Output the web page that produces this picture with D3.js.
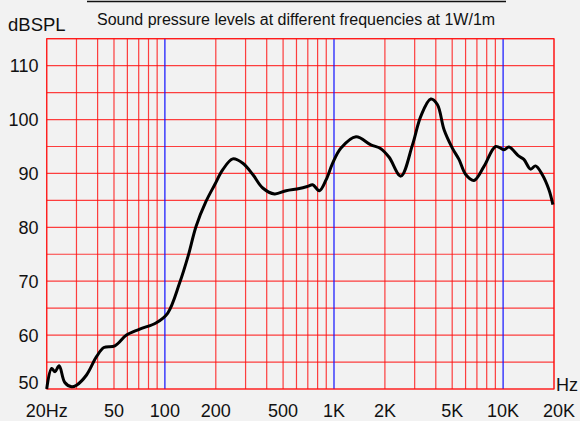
<!DOCTYPE html>
<html>
<head>
<meta charset="utf-8">
<script src="https://cdn.jsdelivr.net/npm/d3@7"></script>
<style>
  html, body { margin: 0; padding: 0; background: #f2f2f2; }
  text { font-family: "Liberation Sans", Arial, sans-serif; fill: #111; }
</style>
</head>
<body>
<svg width="580" height="421"></svg>
<script>
// frequency response
var freqs = [20, 21.4, 22.4, 23.7, 25.6, 28.1, 30, 34.4, 39.4, 43.6, 50.6, 59.3, 71, 89, 104,
  122, 137, 153, 175, 197, 220, 252, 289, 331, 379, 445, 521, 624, 698, 748, 819, 897,
  982, 1100, 1349, 1653, 1893, 2119, 2485, 2911, 3260, 3735, 4085, 4477, 5011, 5484,
  6010, 6729, 7709, 9036, 10118, 10823, 12396, 13270, 14530, 15560, 17030, 18650, 19700];
var spl = [50, 53.8, 53.2, 54.3, 51.2, 50.4, 50.7, 52.6, 56.0, 57.7, 58.0, 60.0, 61.1, 62.3, 64.1,
  69.6, 74.6, 80.2, 84.8, 87.9, 90.7, 92.7, 91.9, 89.8, 87.3, 86.2, 86.8, 87.2, 87.6, 87.9, 86.8, 88.8,
  91.9, 94.7, 96.8, 95.3, 94.6, 93.0, 89.5, 95.3, 100.6, 103.8, 102.8, 98.1, 94.7, 92.6,
  89.8, 88.7, 91.3, 95.0, 94.4, 94.9, 93.2, 92.6, 90.8, 91.4, 89.8, 87.0, 84.2];

var gridFreqs = [20, 30, 40, 50, 60, 70, 80, 90, 100, 200, 300, 400, 500, 600, 700, 800, 900,
  1000, 2000, 3000, 4000, 5000, 6000, 7000, 8000, 9000, 10000, 20000];
var blueFreqs = [100, 1000, 10000];
var xTickFreqs = [20, 50, 100, 200, 500, 1000, 2000, 5000, 10000, 20000];
var xTickLabels = ["20Hz", "50", "100", "200", "500", "1K", "2K", "5K", "10K", "20K"];
var yGrid = [50, 55, 60, 65, 70, 75, 80, 85, 90, 95, 100, 105, 110, 115];
var yTicks = [50, 60, 70, 80, 90, 100, 110];

var plotLeft = 46.7, plotRight = 554, plotTop = 38.7, plotBottom = 389;

var svg = d3.select("svg");

var x = d3.scaleLog().domain([20, 20000]).range([plotLeft, plotRight]);
var y = d3.scaleLinear().domain([50, 115]).range([plotBottom, plotTop]);

// cut-off heading underline at the very top
svg.append("line")
  .attr("x1", 87).attr("x2", 506).attr("y1", 1.5).attr("y2", 1.5)
  .attr("stroke", "#111").attr("stroke-width", 1.5);

svg.append("text")
  .attr("x", 8).attr("y", 30.5)
  .style("font-size", "18.5px")
  .text("dBSPL");

svg.append("text")
  .attr("x", 97).attr("y", 24.5)
  .style("font-size", "16px")
  .text("Sound pressure levels at different frequencies at 1W/1m");

var grid = svg.append("g");

grid.selectAll("line.h")
  .data(yGrid)
  .enter().append("line")
  .attr("class", "h")
  .attr("x1", plotLeft).attr("x2", plotRight)
  .attr("y1", function(d) { return y(d); })
  .attr("y2", function(d) { return y(d); })
  .attr("stroke", "#ff1010").attr("stroke-width", 1.2).attr("stroke-opacity", 0.8);

grid.selectAll("line.v")
  .data(gridFreqs.filter(function(f) { return blueFreqs.indexOf(f) < 0; }))
  .enter().append("line")
  .attr("class", "v")
  .attr("y1", plotTop).attr("y2", plotBottom)
  .attr("x1", function(d) { return x(d); })
  .attr("x2", function(d) { return x(d); })
  .attr("stroke", "#ff1010").attr("stroke-width", 1.2).attr("stroke-opacity", 0.8);

grid.selectAll("line.b")
  .data(blueFreqs)
  .enter().append("line")
  .attr("class", "b")
  .attr("y1", plotTop).attr("y2", plotBottom)
  .attr("x1", function(d) { return x(d); })
  .attr("x2", function(d) { return x(d); })
  .attr("stroke", "#1010ff").attr("stroke-width", 1.2);

grid.append("rect")
  .attr("x", plotLeft).attr("y", plotTop)
  .attr("width", plotRight - plotLeft).attr("height", plotBottom - plotTop)
  .attr("fill", "none")
  .attr("stroke", "#ff1010").attr("stroke-width", 1.2).attr("stroke-opacity", 0.8);

// y labels
svg.selectAll("text.yl")
  .data(yTicks)
  .enter().append("text")
  .attr("class", "yl")
  .attr("x", 38.5)
  .attr("y", function(d) { return y(d); })
  .attr("dy", function(d) { return d === 50 ? "0" : "0.36em"; })
  .attr("text-anchor", "end")
  .style("font-size", "18px")
  .text(function(d) { return d; });

// x labels
svg.selectAll("text.xl")
  .data(xTickFreqs)
  .enter().append("text")
  .attr("class", "xl")
  .attr("x", function(d) { return x(d); })
  .attr("dx", function(d) { return d === 20000 ? 5 : 0; })
  .attr("y", 416.5)
  .attr("text-anchor", "middle")
  .style("font-size", "18px")
  .text(function(d, i) { return xTickLabels[i]; });

svg.append("text")
  .attr("x", 556).attr("y", 391)
  .style("font-size", "18px")
  .text("Hz");

var line = d3.line()
  .x(function(d) { return x(d[0]); })
  .y(function(d) { return y(d[1]); })
  .curve(d3.curveCatmullRom.alpha(0.5));

svg.append("path")
  .datum(d3.zip(freqs, spl))
  .attr("d", line)
  .attr("fill", "none")
  .attr("stroke", "#000")
  .attr("stroke-width", 3)
  .attr("stroke-linejoin", "round");
</script>
</body>
</html>
